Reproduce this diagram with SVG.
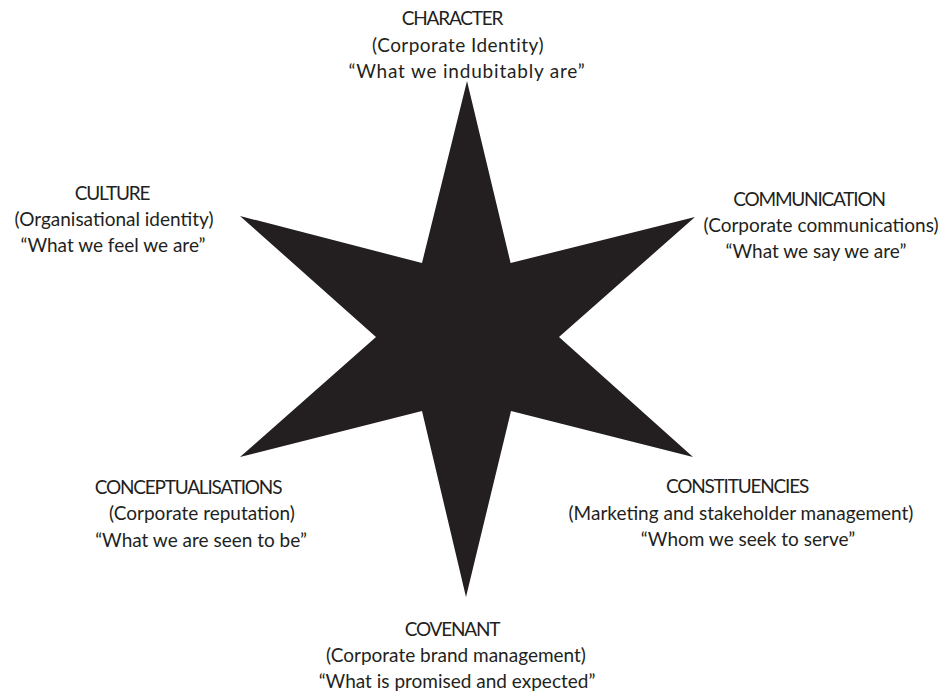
<svg xmlns="http://www.w3.org/2000/svg" width="943" height="691" viewBox="0 0 943 691">
  <style>
    .lbl { font-family: Lato, "Liberation Sans", Arial, sans-serif; font-size: 19px; fill: #231f20; text-anchor: middle; }
    .cap { letter-spacing: -1.2px; }
    .star { fill: #231f20; }
  </style>
  <rect width="943" height="691" fill="#ffffff"/>

  <!-- six-pointed star -->
  <g id="star">
    <polygon class="star" points="467,81 510.6,263 695,217 559,337 693,457 511,411 466,597 422,411 240,457 376,337 240,216 422,263"/>
  </g>

  <g id="connectors"></g>

  <g id="character">
    <text class="lbl cap" x="452" y="25">CHARACTER</text>
    <text class="lbl" x="458" y="52" letter-spacing="0.45">(Corporate Identity)</text>
    <text class="lbl" x="467" y="78" letter-spacing="0.8">“What we indubitably are”</text>
  </g>

  <g id="culture">
    <text class="lbl cap" x="112" y="200">CULTURE</text>
    <text class="lbl" x="114" y="226">(Organisational identity)</text>
    <text class="lbl" x="113" y="252">“What we feel we are”</text>
  </g>

  <g id="communication">
    <text class="lbl cap" x="809" y="206">COMMUNICATION</text>
    <text class="lbl" x="821" y="232">(Corporate communications)</text>
    <text class="lbl" x="816" y="258">“What we say we are”</text>
  </g>

  <g id="conceptualisations">
    <text class="lbl cap" x="188" y="494">CONCEPTUALISATIONS</text>
    <text class="lbl" x="202" y="520">(Corporate reputation)</text>
    <text class="lbl" x="201" y="547">“What we are seen to be”</text>
  </g>

  <g id="constituencies">
    <text class="lbl cap" x="737" y="493">CONSTITUENCIES</text>
    <text class="lbl" x="741" y="520">(Marketing and stakeholder management)</text>
    <text class="lbl" x="748" y="546">“Whom we seek to serve”</text>
  </g>

  <g id="covenant">
    <text class="lbl cap" x="452" y="636">COVENANT</text>
    <text class="lbl" x="456" y="662">(Corporate brand management)</text>
    <text class="lbl" x="457" y="688">“What is promised and expected”</text>
  </g>
</svg>
